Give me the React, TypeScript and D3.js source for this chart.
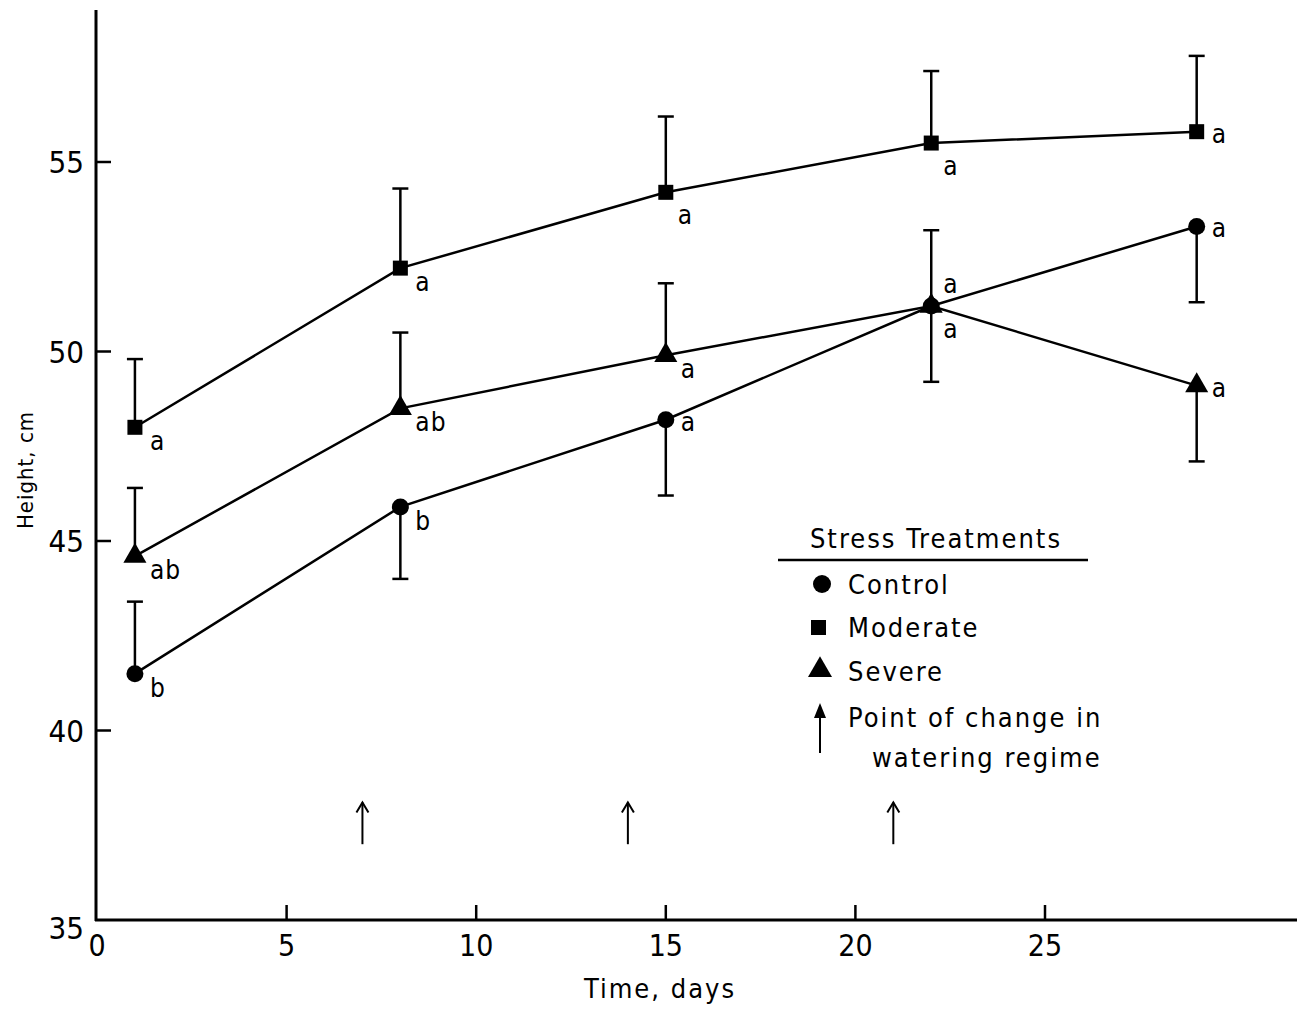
import React from "react";
import * as d3 from "d3";

// sampling days
const days = [1, 8, 15, 22, 29];

// mean height, cm
const control = [41.5, 45.9, 48.2, 51.2, 53.3];
const moderate = [48.0, 52.2, 54.2, 55.5, 55.8];
const severe = [44.6, 48.5, 49.9, 51.2, 49.1];

// end of the one-sided error bar
const controlErr = [43.4, 44.0, 46.2, 53.2, 51.3];
const moderateErr = [49.8, 54.3, 56.2, 57.4, 57.8];
const severeErr = [46.4, 50.5, 51.8, 49.2, 47.1];

// significance letters and where they sit
const controlLetters = ["b", "b", "a", "a", "a"];
const moderateLetters = ["a", "a", "a", "a", "a"];
const severeLetters = ["ab", "ab", "a", "a", "a"];
const controlPlace = ["br", "br", "r", "ar", "r"];
const moderatePlace = ["br", "br", "bb", "bb", "r"];
const severePlace = ["br", "br", "br", "bb", "r"];

const changeDays = [7, 14, 21];
const xTicks = [0, 5, 10, 15, 20, 25];
const yTicks = [35, 40, 45, 50, 55];

const FONT = "'Liberation Sans Narrow', 'DejaVu Sans Condensed', sans-serif";

const x = d3.scaleLinear().domain([0, 25]).range([97, 1045]);
const y = d3.scaleLinear().domain([35, 55]).range([920, 162]);

const place: Record<string, [number, number]> = {
  r: [15, 11],
  br: [15, 23],
  bb: [12, 32],
  ar: [12, -13],
};

type Shape = "circle" | "square" | "triangle";

function Marker({ cx, cy, shape }: { cx: number; cy: number; shape: Shape }) {
  if (shape === "circle") return <circle cx={cx} cy={cy} r={8.5} fill="#000" />;
  if (shape === "square") return <rect x={cx - 7.5} y={cy - 7.5} width={15} height={15} fill="#000" />;
  const tri = d3.symbol().type(d3.symbolTriangle).size(230)();
  return <path d={tri || ""} transform={`translate(${cx},${cy})`} fill="#000" />;
}

function Series({ vals, errs, letters, places, shape }: {
  vals: number[]; errs: number[]; letters: string[]; places: string[]; shape: Shape;
}) {
  const line = d3.line<number>().x((_, i) => x(days[i])).y((d) => y(d));
  return (
    <g>
      <path d={line(vals) || ""} fill="none" stroke="#000" strokeWidth={2.5} />
      {vals.map((v, i) => (
        <g key={i}>
          <line x1={x(days[i])} x2={x(days[i])} y1={y(v)} y2={y(errs[i])} stroke="#000" strokeWidth={2.5} />
          <line x1={x(days[i]) - 8} x2={x(days[i]) + 8} y1={y(errs[i])} y2={y(errs[i])} stroke="#000" strokeWidth={2.5} />
          <Marker cx={x(days[i])} cy={y(v)} shape={shape} />
          <text
            x={x(days[i]) + place[places[i]][0]}
            y={y(v) + place[places[i]][1]}
            fontSize={26}
            fontFamily={FONT}
            letterSpacing={1}
          >
            {letters[i]}
          </text>
        </g>
      ))}
    </g>
  );
}

function UpArrow({ cx, top, bottom }: { cx: number; top: number; bottom: number }) {
  return (
    <g stroke="#000" strokeWidth={2} fill="none">
      <line x1={cx} x2={cx} y1={top} y2={bottom} />
      <path d={`M${cx - 6},${top + 10}L${cx},${top}L${cx + 6},${top + 10}`} />
    </g>
  );
}

export default function App() {
  return (
    <svg width={1297} height={1010} style={{ position: "absolute", left: 0, top: 0, background: "#fff" }}>
      {/* axes */}
      <line x1={96} x2={96} y1={10} y2={921} stroke="#000" strokeWidth={3} />
      <line x1={95} x2={1297} y1={920} y2={920} stroke="#000" strokeWidth={3} />
      {yTicks.map((t) => (
        <g key={t}>
          {t !== 35 && <line x1={96} x2={111} y1={y(t)} y2={y(t)} stroke="#000" strokeWidth={2.5} />}
          <text x={84} y={y(t) + (t === 35 ? 19 : 11)} textAnchor="end" fontSize={31} fontFamily={FONT}>
            {t}
          </text>
        </g>
      ))}
      {xTicks.map((t) => (
        <g key={t}>
          {t !== 0 && <line x1={x(t)} x2={x(t)} y1={920} y2={905} stroke="#000" strokeWidth={2.5} />}
          <text x={x(t)} y={956} textAnchor="middle" fontSize={30} fontFamily={FONT}>
            {t}
          </text>
        </g>
      ))}
      <text x={660} y={998} textAnchor="middle" fontSize={27} fontFamily={FONT} letterSpacing={2}>
        Time, days
      </text>
      <text transform="translate(33,470) rotate(-90)" textAnchor="middle" fontSize={22} fontFamily={FONT} letterSpacing={1}>
        Height, cm
      </text>

      {/* data */}
      <Series vals={moderate} errs={moderateErr} letters={moderateLetters} places={moderatePlace} shape="square" />
      <Series vals={severe} errs={severeErr} letters={severeLetters} places={severePlace} shape="triangle" />
      <Series vals={control} errs={controlErr} letters={controlLetters} places={controlPlace} shape="circle" />

      {changeDays.map((d) => (
        <UpArrow key={d} cx={x(d)} top={y(38.1)} bottom={y(37.0)} />
      ))}

      {/* legend */}
      <g fontFamily={FONT} fontSize={27} letterSpacing={2}>
        <text x={936} y={548} textAnchor="middle">Stress Treatments</text>
        <line x1={778} x2={1088} y1={560} y2={560} stroke="#000" strokeWidth={2.5} />
        <circle cx={822} cy={584} r={9} fill="#000" />
        <text x={848} y={594}>Control</text>
        <rect x={811} y={620} width={15} height={15} fill="#000" />
        <text x={848} y={637}>Moderate</text>
        <path d={d3.symbol().type(d3.symbolTriangle).size(250)() || ""} transform="translate(820,670)" fill="#000" />
        <text x={848} y={681}>Severe</text>
        <line x1={820} x2={820} y1={712} y2={753} stroke="#000" strokeWidth={2} />
        <path d="M814,718L820,703L826,718Z" fill="#000" />
        <text x={848} y={727}>Point of change in</text>
        <text x={872} y={767}>watering regime</text>
      </g>
    </svg>
  );
}
